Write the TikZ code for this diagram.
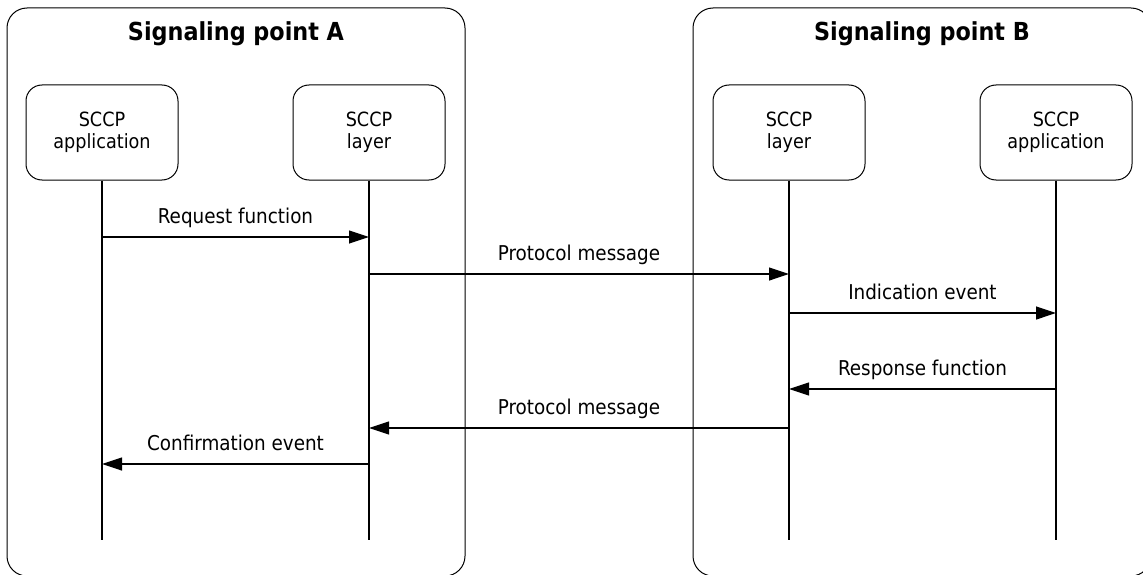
\documentclass[tikz,border=0pt]{standalone}
\usepackage{fontspec}
\setmainfont{DejaVu Sans Condensed}
\usepackage{tikz}
\usetikzlibrary{arrows.meta, positioning}

\tikzset{
    group/.style={draw, line width=1pt, rounded corners=20pt, minimum width=458pt, minimum height=568pt},
    grouptitle/.style={anchor=base, font=\fontsize{24.8}{28}\selectfont\bfseries},
    party/.style={draw, line width=1pt, rounded corners=16pt, minimum width=152pt, minimum height=95pt,
        align=center, font=\fontsize{19.6}{22}\selectfont},
    lifeline/.style={line width=1.2pt},
    msg/.style={line width=1.2pt, -{Triangle[length=20pt, width=13pt]}},
    lbl/.style={anchor=base, yshift=14pt, font=\fontsize{20.4}{23}\selectfont}
}

\begin{document}
\begin{tikzpicture}[x=1pt, y=-1pt]
    \clip (0,0) rectangle (1143,575);

    % the two signaling points
    \node[group] (spA) at (236,292) {};
    \node[group] (spB) at (922,292) {};
    \node[grouptitle] (titleA) at (236,41) {Signaling point A};
    \node[grouptitle] (titleB) at (922,41) {Signaling point B};

    % SCCP entities
    \node[party] (appA) at (102,132.5) {SCCP\\application};
    \node[party] (layA) at (369,132.5) {SCCP\\layer};
    \node[party] (layB) at (789,132.5) {SCCP\\layer};
    \node[party] (appB) at (1056,132.5) {SCCP\\application};

    % lifelines
    \coordinate (bottom) at (0,540);
    \foreach \p in {appA, layA, layB, appB}
        \draw[lifeline] (\p.south) -- (\p.south |- bottom);

    % message rows
    \coordinate (m1) at (0,237);
    \coordinate (m2) at (0,274);
    \coordinate (m3) at (0,313);
    \coordinate (m4) at (0,389);
    \coordinate (m5) at (0,428);
    \coordinate (m6) at (0,464);

    \draw[msg] (appA |- m1) -- node[lbl] {Request function} (layA |- m1);
    \draw[msg] (layA |- m2) -- node[lbl] {Protocol message} (layB |- m2);
    \draw[msg] (layB |- m3) -- node[lbl] {Indication event} (appB |- m3);
    \draw[msg] (appB |- m4) -- node[lbl] {Response function} (layB |- m4);
    \draw[msg] (layB |- m5) -- node[lbl] {Protocol message} (layA |- m5);
    \draw[msg] (layA |- m6) -- node[lbl] {Confirmation event} (appA |- m6);
\end{tikzpicture}
\end{document}
